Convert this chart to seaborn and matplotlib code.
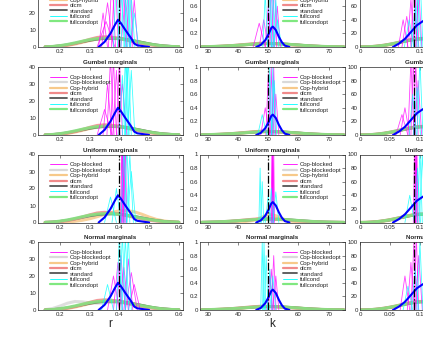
import matplotlib.pyplot as plt
import seaborn as sns
from matplotlib.lines import Line2D

sns.set_style('white')
plt.rcParams['font.family'] = ['Liberation Sans', 'DejaVu Sans']

methods = ['Cop-blocked', 'Cop-blockedopt', 'Cop-hybrid', 'olcm', 'standard', 'fullcond', 'fullcondopt']
row_titles = ['', 'Gumbel marginals', 'Uniform marginals', 'Normal marginals']
param_labels = ['r', 'k', '']
true_values = [0.4, 50, 0.09]

# broad density curves (r column)
r_grid = [0.15, 0.175, 0.2, 0.225, 0.25, 0.275, 0.3, 0.325, 0.35, 0.375,
          0.4, 0.425, 0.45, 0.475, 0.5, 0.525, 0.55, 0.575, 0.6]
r_standard = [0.1, 0.3, 0.7, 1.3, 2.1, 3.0, 3.9, 4.6, 5.0, 5.1, 4.9, 4.4, 3.6, 2.8, 1.9, 1.2, 0.7, 0.4, 0.2]
r_olcm = [0.1, 0.2, 0.5, 1.1, 2.0, 3.2, 4.5, 5.6, 6.0, 5.7, 5.0, 4.0, 3.0, 2.1, 1.3, 0.8, 0.4, 0.2, 0.1]
r_fullcondopt = [0.1, 0.3, 0.8, 1.5, 2.4, 3.4, 4.3, 4.9, 5.2, 5.2, 4.9, 4.3, 3.5, 2.6, 1.8, 1.1, 0.6, 0.3, 0.2]
r_hybrid = [0.0, 0.1, 0.4, 0.9, 1.7, 2.7, 3.8, 4.7, 5.3, 5.5, 5.2, 4.5, 3.6, 2.6, 1.7, 1.0, 0.5, 0.2, 0.1]
r_hybrid_uniform = [0.0, 0.0, 0.1, 0.3, 0.7, 1.3, 2.2, 3.4, 4.8, 6.0, 6.8, 7.0, 6.3, 4.9, 3.2, 1.8, 0.9, 0.4, 0.1]
r_blockedopt = [0.1, 0.3, 0.7, 1.4, 2.3, 3.2, 4.0, 4.6, 4.9, 5.0, 4.8, 4.3, 3.5, 2.7, 1.8, 1.1, 0.6, 0.3, 0.1]
r_blockedopt_normal = [0.2, 0.9, 2.3, 4.0, 5.0, 4.8, 4.2, 4.0, 4.2, 4.5, 4.3, 3.8, 3.0, 2.2, 1.4, 0.8, 0.4, 0.2, 0.1]

# broad density curves (k column)
k_grid = [28, 30, 32.5, 35, 37.5, 40, 42.5, 45, 47.5, 50, 52.5, 55, 57.5, 60, 62.5, 65, 67.5, 70, 72.5, 75]
k_standard = [0.003, 0.005, 0.008, 0.012, 0.018, 0.025, 0.033, 0.041, 0.047, 0.05, 0.049, 0.045,
              0.038, 0.03, 0.022, 0.015, 0.01, 0.006, 0.004, 0.002]
k_olcm = [0.002, 0.004, 0.007, 0.012, 0.019, 0.028, 0.038, 0.048, 0.055, 0.054, 0.048, 0.04,
          0.032, 0.024, 0.017, 0.011, 0.007, 0.004, 0.003, 0.002]
k_fullcondopt = [0.003, 0.005, 0.009, 0.013, 0.019, 0.026, 0.034, 0.042, 0.048, 0.051, 0.05, 0.045,
                 0.037, 0.029, 0.021, 0.014, 0.009, 0.006, 0.004, 0.002]
k_hybrid = [0.002, 0.004, 0.007, 0.011, 0.017, 0.024, 0.032, 0.041, 0.048, 0.052, 0.05, 0.044,
            0.036, 0.028, 0.02, 0.013, 0.008, 0.005, 0.003, 0.002]
k_hybrid_uniform = [0.0, 0.0, 0.001, 0.002, 0.004, 0.008, 0.015, 0.03, 0.07, 0.12, 0.1, 0.05,
                    0.02, 0.008, 0.003, 0.001, 0.0, 0.0, 0.0, 0.0]
k_blockedopt = [0.003, 0.005, 0.008, 0.012, 0.018, 0.026, 0.035, 0.043, 0.048, 0.05, 0.048, 0.043,
                0.036, 0.028, 0.02, 0.014, 0.009, 0.006, 0.004, 0.002]

# broad density curves (third column)
c_grid = [0.0, 0.01, 0.02, 0.03, 0.04, 0.05, 0.06, 0.07, 0.08, 0.09, 0.1,
          0.11, 0.12, 0.13, 0.14, 0.15, 0.16, 0.17, 0.18, 0.19, 0.2]
c_standard = [0.0, 0.2, 0.6, 1.3, 2.4, 3.8, 5.5, 7.4, 9.3, 10.9, 11.9, 12.2, 11.8, 10.8, 9.3, 7.6, 5.9, 4.3, 3.0, 2.0, 1.2]
c_olcm = [0.0, 0.2, 0.7, 1.5, 2.7, 4.2, 6.0, 8.0, 10.0, 11.6, 12.5, 12.5, 11.7, 10.4, 8.7, 7.0, 5.3, 3.8, 2.6, 1.7, 1.0]
c_fullcondopt = [0.0, 0.2, 0.6, 1.4, 2.5, 4.0, 5.8, 7.7, 9.6, 11.1, 12.0, 12.3, 11.8, 10.7, 9.2, 7.5, 5.8, 4.2, 2.9, 1.9, 1.1]
c_hybrid = [0.0, 0.1, 0.4, 1.0, 2.0, 3.4, 5.2, 7.4, 9.6, 11.4, 12.5, 12.6, 11.9, 10.5, 8.8, 7.0, 5.2, 3.7, 2.5, 1.6, 0.9]
c_blockedopt = [0.0, 0.2, 0.6, 1.3, 2.4, 3.9, 5.6, 7.5, 9.4, 11.0, 12.0, 12.2, 11.7, 10.6, 9.1, 7.4, 5.7, 4.1, 2.9, 1.9, 1.1]

# thick blue reference density per column
blue_r_x = [0.33, 0.35, 0.37, 0.385, 0.395, 0.405, 0.42, 0.44, 0.45, 0.46, 0.48, 0.5]
blue_r_y = [0.0, 3.0, 8.0, 13.0, 16.0, 14.0, 10.0, 5.0, 2.0, 1.0, 0.5, 0.0]
blue_k_x = [46, 47.5, 49, 50, 51, 51.5, 52.5, 53.5, 54.5, 55.5, 57]
blue_k_y = [0.0, 0.03, 0.1, 0.18, 0.28, 0.3, 0.25, 0.15, 0.07, 0.02, 0.0]
blue_c_x = [0.055, 0.065, 0.075, 0.085, 0.095, 0.105, 0.115, 0.13, 0.15, 0.17, 0.19]
blue_c_y = [0.0, 5.0, 12.0, 22.0, 32.0, 38.0, 40.0, 32.0, 15.0, 5.0, 0.0]

# single-run densities: (centre, peak, half width), per row then column
blocked_runs = [
    [[(0.345, 20, 0.015), (0.36, 26, 0.02), (0.375, 42, 0.012), (0.385, 45, 0.012), (0.41, 44, 0.012),
      (0.42, 30, 0.015), (0.435, 45, 0.01), (0.45, 28, 0.012), (0.355, 15, 0.03)],
     [(47, 0.35, 2), (48.5, 0.4, 1.5), (50, 0.6, 1), (51, 0.9, 0.8), (52, 1.0, 0.8), (53, 0.6, 1)],
     [(0.072, 40, 0.008), (0.078, 45, 0.008), (0.085, 70, 0.006), (0.09, 100, 0.005), (0.094, 110, 0.004),
      (0.098, 90, 0.005)]],
    [[(0.36, 30, 0.015), (0.37, 45, 0.012), (0.38, 45, 0.01), (0.39, 38, 0.012), (0.40, 45, 0.01),
      (0.41, 30, 0.015), (0.35, 15, 0.025)],
     [(50, 0.9, 0.8), (51, 1.0, 0.6), (51.8, 1.0, 0.6), (52.5, 0.6, 1), (49, 0.4, 1.5)],
     [(0.07, 30, 0.01), (0.075, 40, 0.008), (0.085, 110, 0.005), (0.089, 110, 0.004), (0.093, 110, 0.004),
      (0.097, 80, 0.006)]],
    [[(0.408, 50, 0.004), (0.412, 50, 0.004), (0.416, 50, 0.004), (0.42, 50, 0.005), (0.41, 50, 0.003)],
     [(51.2, 1.1, 0.3), (51.5, 1.1, 0.3), (51.8, 1.1, 0.3), (51.4, 1.1, 0.25)],
     [(0.091, 110, 0.002), (0.093, 110, 0.002), (0.095, 110, 0.002), (0.094, 110, 0.0015)]],
    [[(0.38, 20, 0.02), (0.395, 28, 0.015), (0.405, 32, 0.015), (0.415, 25, 0.015), (0.43, 30, 0.015),
      (0.44, 22, 0.02), (0.45, 15, 0.02)],
     [(50.5, 0.5, 1), (51, 0.6, 1), (51.8, 0.8, 0.8), (52.5, 0.5, 1)],
     [(0.075, 50, 0.008), (0.085, 70, 0.006), (0.09, 100, 0.005), (0.094, 110, 0.004), (0.098, 80, 0.006)]],
]
fullcond_runs = [
    [[(0.39, 45, 0.01), (0.405, 35, 0.012), (0.415, 45, 0.01), (0.425, 42, 0.01), (0.44, 30, 0.012),
      (0.45, 20, 0.015), (0.43, 45, 0.008)],
     [(49, 0.8, 0.8), (50.5, 1.0, 0.6), (51.5, 1.0, 0.6), (52.5, 0.7, 1), (53, 0.4, 1.5)],
     [(0.082, 40, 0.008), (0.092, 60, 0.006), (0.1, 110, 0.005), (0.096, 80, 0.006)]],
    [[(0.41, 35, 0.012), (0.42, 45, 0.01), (0.43, 45, 0.01), (0.44, 38, 0.012), (0.425, 45, 0.008)],
     [(50.5, 1.0, 0.6), (51.5, 1.0, 0.5), (52, 0.8, 0.8), (48, 0.3, 1.5)],
     [(0.088, 60, 0.006), (0.1, 110, 0.005), (0.095, 70, 0.006)]],
    [[(0.37, 15, 0.02), (0.39, 20, 0.015), (0.415, 45, 0.01), (0.425, 45, 0.01), (0.435, 40, 0.012),
      (0.44, 30, 0.015)],
     [(47.3, 0.8, 0.4), (48, 0.6, 0.5), (50, 0.4, 1), (51, 0.5, 0.8), (52.5, 0.45, 1)],
     [(0.083, 40, 0.008), (0.096, 80, 0.005), (0.1, 110, 0.004), (0.104, 100, 0.005)]],
    [[(0.36, 15, 0.02), (0.40, 45, 0.01), (0.41, 45, 0.01), (0.42, 42, 0.012), (0.43, 45, 0.01)],
     [(48, 1.0, 0.5), (48.6, 1.0, 0.5), (49.3, 0.8, 0.6), (50.5, 0.6, 0.8), (51.5, 0.5, 1)],
     [(0.08, 35, 0.008), (0.092, 60, 0.006), (0.1, 100, 0.005)]],
]

colors = {'Cop-blocked': '#ff00ff', 'Cop-blockedopt': '#d9d9d9', 'Cop-hybrid': '#f7c98a',
          'olcm': '#f08a8a', 'standard': '#555555', 'fullcond': '#00ffff', 'fullcondopt': '#80e880'}
widths = {'Cop-blocked': 0.6, 'Cop-blockedopt': 1.6, 'Cop-hybrid': 1.6, 'olcm': 1.6,
          'standard': 1.3, 'fullcond': 0.6, 'fullcondopt': 1.6}

grids = [r_grid, k_grid, c_grid]
xlims = [(0.126, 0.614), (27.4, 75.4), (0, 0.242)]
ylims = [(0, 40), (0, 1), (0, 100)]
xticks = [[0.2, 0.3, 0.4, 0.5, 0.6], [30, 40, 50, 60, 70], [0, 0.05, 0.1, 0.15, 0.2]]
yticks = [[0, 10, 20, 30, 40], [0, 0.2, 0.4, 0.6, 0.8, 1], [0, 20, 40, 60, 80, 100]]
blue = [(blue_r_x, blue_r_y), (blue_k_x, blue_k_y), (blue_c_x, blue_c_y)]


def broad_curves(row, col):
    if col == 0:
        return {'Cop-blockedopt': r_blockedopt_normal if row == 3 else r_blockedopt,
                'Cop-hybrid': r_hybrid_uniform if row == 2 else r_hybrid,
                'standard': r_standard, 'olcm': r_olcm, 'fullcondopt': r_fullcondopt}
    if col == 1:
        return {'Cop-blockedopt': k_blockedopt,
                'Cop-hybrid': k_hybrid_uniform if row == 2 else k_hybrid,
                'standard': k_standard, 'olcm': k_olcm, 'fullcondopt': k_fullcondopt}
    return {'Cop-blockedopt': c_blockedopt, 'Cop-hybrid': c_hybrid,
            'standard': c_standard, 'olcm': c_olcm, 'fullcondopt': c_fullcondopt}


def draw_runs(ax, runs, color):
    for c, h, w in runs:
        sns.lineplot(x=[c - w, c, c + w], y=[0, h, 0], ax=ax, color=color, lw=0.6,
                     alpha=0.75, sort=False, estimator=None)


W, H = 423, 341
fig = plt.figure(figsize=(W / 100, H / 100), dpi=100)
col_left = [38, 200, 360]
col_w = 145
row_bottom = [47, 135, 222.5, 310]
row_h = 68

for row in range(4):
    for col in range(3):
        ax = fig.add_axes([col_left[col] / W, 1 - row_bottom[row] / H, col_w / W, row_h / H])
        for m, y in broad_curves(row, col).items():
            sns.lineplot(x=grids[col], y=y, ax=ax, color=colors[m], lw=widths[m] + 0.6,
                         alpha=0.85, sort=False, estimator=None)
        draw_runs(ax, blocked_runs[row][col], colors['Cop-blocked'])
        draw_runs(ax, fullcond_runs[row][col], colors['fullcond'])
        bx, by = blue[col]
        sns.lineplot(x=bx, y=by, ax=ax, color='#0000ff', lw=1.5, sort=False, estimator=None)
        ax.axvline(true_values[col], color='black', ls='-.', lw=0.9)

        ax.set_xlim(*xlims[col])
        ax.set_ylim(*ylims[col])
        ax.set_xticks(xticks[col])
        ax.set_xticklabels(['%g' % t for t in xticks[col]])
        ax.set_yticks(yticks[col])
        ax.set_yticklabels(['%g' % t for t in yticks[col]])
        ax.tick_params(labelsize=4.4, pad=1.5, direction='in', length=2, width=0.4,
                       top=True, right=True, colors='#262626')
        for s in ax.spines.values():
            s.set_color('#262626')
            s.set_linewidth(0.5)
        ax.set_xlabel('')
        ax.set_ylabel('')
        if row_titles[row]:
            ax.set_title(row_titles[row], fontsize=4.5, fontweight='bold', pad=2)

        handles = [Line2D([], [], color=colors[m], lw=widths[m]) for m in methods]
        if col == 0:
            ax.legend(handles, methods, loc='upper left', bbox_to_anchor=(0.082, 0.89),
                      frameon=False, fontsize=4.3, labelspacing=0.05, handlelength=2.8,
                      handletextpad=0.5, borderpad=0, borderaxespad=0)
        elif col == 1:
            ax.legend(handles, methods, loc='upper left', bbox_to_anchor=(0.57, 0.89),
                      frameon=False, fontsize=4.3, labelspacing=0.05, handlelength=2.4,
                      handletextpad=0.5, borderpad=0, borderaxespad=0)
        if row == 3 and param_labels[col]:
            ax.set_xlabel(param_labels[col], fontsize=8.5, labelpad=1)

fig.savefig('out.png', dpi=100)
